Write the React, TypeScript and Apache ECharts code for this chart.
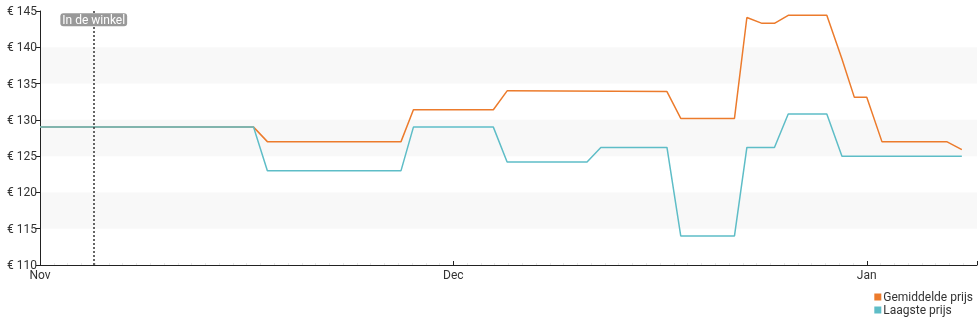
import React, { useEffect, useRef } from "react";
import * as echarts from "echarts";

// x values: days counted from 1 Nov, with each month drawn as 30 units
const monthTicks: [number, string][] = [[0, "Nov"], [30, "Dec"], [60, "Jan"]];
const avgPrice: [number, number][] = [
  [0, 129], [15.5, 129], [16.5, 127], [26.2, 127], [27.1, 131.4], [32.9, 131.4],
  [33.9, 134], [45.5, 133.9], [46.5, 130.2], [50.4, 130.2], [51.3, 144.1],
  [52.4, 143.3], [53.3, 143.3], [54.3, 144.4], [57.1, 144.4], [58.2, 138.4],
  [59.1, 133.1], [60.0, 133.1], [61.1, 127], [65.8, 127], [66.9, 125.9],
];
const lowPrice: [number, number][] = [
  [0, 129], [15.5, 129], [16.5, 123], [26.2, 123], [27.1, 129], [32.9, 129],
  [33.9, 124.2], [39.7, 124.2], [40.7, 126.2], [45.5, 126.2], [46.5, 114],
  [50.4, 114], [51.3, 126.2], [53.3, 126.2], [54.3, 130.8], [57.1, 130.8],
  [58.2, 125], [66.9, 125],
];
const inStoreX = 3.9;
const inStoreLabel = "In de winkel";
const seriesNames = ["Gemiddelde prijs", "Laagste prijs"];

export default function App() {
  const ref = useRef<HTMLDivElement>(null);
  useEffect(() => {
    if (!ref.current) return;
    const chart = echarts.init(ref.current, undefined, { renderer: "svg" });
    const labelMap: Record<number, string> = {};
    monthTicks.forEach(([v, l]) => (labelMap[v] = l));
    chart.setOption({
      animation: false,
      textStyle: { fontFamily: "Roboto" },
      grid: { left: 40, right: 3, top: 11, bottom: 60 },
      legend: {
        orient: "vertical",
        right: 7,
        top: 291,
        padding: 0,
        itemWidth: 7,
        itemHeight: 7,
        itemGap: 1,
        icon: "rect",
        textStyle: { fontSize: 12, color: "#333", padding: [0, 0, 0, -3] },
        data: seriesNames,
      },
      xAxis: {
        type: "value",
        min: 0,
        max: 68,
        interval: 30,
        axisLine: { lineStyle: { color: "#222" } },
        axisTick: { show: true, length: 4, inside: true, lineStyle: { color: "#222" } },
        minorTick: { show: true, splitNumber: 30, length: 2, lineStyle: { color: "#e8e8e8" } },
        splitLine: { show: false },
        axisLabel: {
          color: "#333",
          fontSize: 12,
          margin: 4,
          formatter: (v: number) => labelMap[v] ?? "",
        },
      },
      yAxis: {
        type: "value",
        min: 110,
        max: 145,
        interval: 5,
        axisLine: { show: true, lineStyle: { color: "#222" } },
        axisTick: { show: true, length: 4, lineStyle: { color: "#222" } },
        splitLine: { show: false },
        splitArea: { show: true, areaStyle: { color: ["rgba(255,255,255,0)", "#f8f8f8"] } },
        axisLabel: {
          color: "#333",
          fontSize: 12,
          margin: 3,
          formatter: (v: number) => "€ " + v,
        },
      },
      series: [
        {
          name: seriesNames[0],
          type: "line",
          data: avgPrice,
          symbol: "none",
          lineStyle: { width: 1.5, color: "#ec7b2c" },
          itemStyle: { color: "#ec7b2c" },
          markLine: {
            silent: true,
            symbol: "none",
            label: { show: false },
            lineStyle: { type: [2, 2], color: "#333", width: 1.5 },
            data: [{ xAxis: inStoreX }],
          },
          markPoint: {
            silent: true,
            symbol: "rect",
            symbolSize: 0,
            label: {
              show: true,
              formatter: inStoreLabel,
              color: "#fff",
              fontSize: 12,
              backgroundColor: "#999",
              borderRadius: 3,
              padding: [1, 2, 0, 2],
            },
            data: [{ coord: [inStoreX, 143.8] }],
          },
        },
        {
          name: seriesNames[1],
          type: "line",
          data: lowPrice,
          symbol: "none",
          lineStyle: { width: 1.5, color: "#5ebdc7" },
          itemStyle: { color: "#5ebdc7" },
        },
      ],
    });
    return () => chart.dispose();
  }, []);
  return (
    <div
      ref={ref}
      style={{ position: "fixed", left: 0, top: 0, width: 980, height: 325 }}
    />
  );
}
